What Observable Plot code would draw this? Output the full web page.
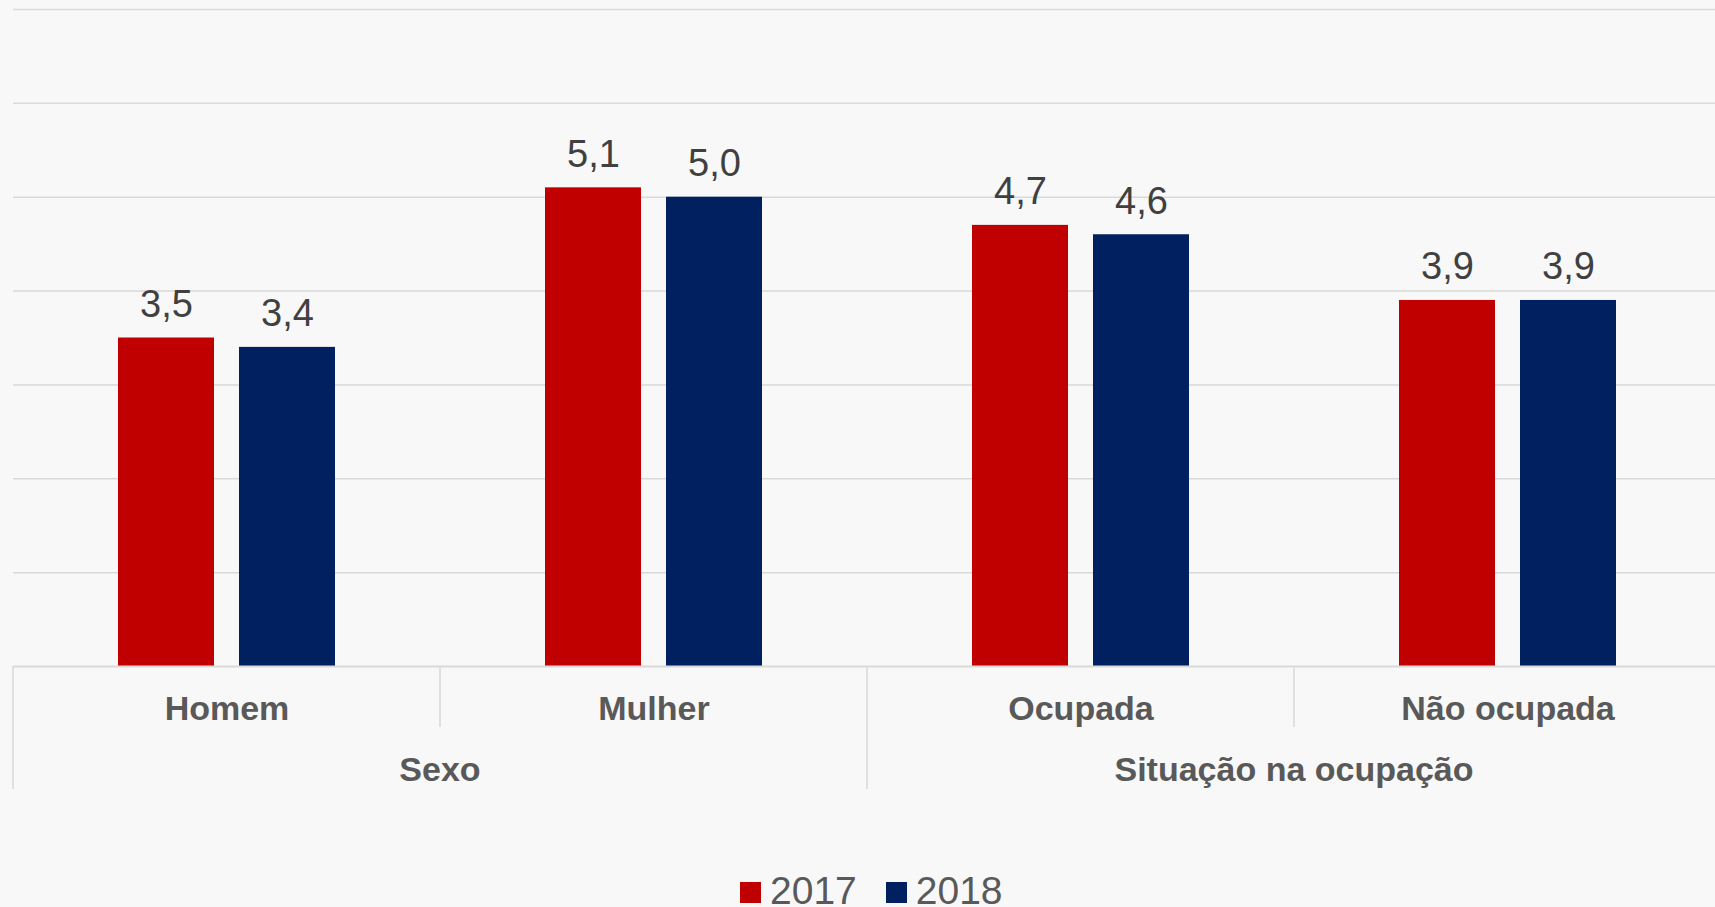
<!DOCTYPE html>
<html>
<head>
<meta charset="utf-8">
<script src="https://cdn.jsdelivr.net/npm/d3@7"></script>
<script src="https://cdn.jsdelivr.net/npm/@observablehq/plot@0.6"></script>
<style>
  html, body { margin: 0; padding: 0; background: #f8f8f8; overflow: hidden; }
  #wrap { position: relative; width: 1715px; height: 907px; overflow: hidden; font-family: "Liberation Sans", Arial, sans-serif; }
  #chart svg { max-width: none !important; }
  #legend { position: absolute; top: 871px; left: 740px; font-size: 39px; line-height: 39px; color: #595959; white-space: nowrap; }
  #legend .sw { display: inline-block; width: 21px; height: 21px; margin-right: 9px; margin-bottom: 1px; vertical-align: baseline; }
  #legend .item { display: inline-block; margin-right: 29px; }
</style>
</head>
<body>
<div id="wrap"><div id="chart"></div><div id="legend"></div></div>
<script>
const categories = ["Homem", "Mulher", "Ocupada", "Não ocupada"];
const groups = ["Sexo", "Situação na ocupação"];
const groupMembers = [["Homem", "Mulher"], ["Ocupada", "Não ocupada"]];
const years = ["2017", "2018"];
const colors = ["#C00000", "#002060"];
const values2017 = [3.5, 5.1, 4.7, 3.9];
const values2018 = [3.4, 5.0, 4.6, 3.9];
const yTicks = [1, 2, 3, 4, 5, 6, 7];

const data = [];
categories.forEach((c, i) => {
  data.push({cat: c, year: years[0], value: values2017[i]});
  data.push({cat: c, year: years[1], value: values2018[i]});
});
const fmt = v => v.toFixed(1).replace(".", ",");
const font = '"Liberation Sans", Arial, sans-serif';

const chart = Plot.plot({
  width: 1722,
  height: 800,
  marginLeft: 11,
  marginRight: 0,
  marginTop: 9,
  marginBottom: 134,
  style: {background: "transparent", fontFamily: font, overflow: "visible", maxWidth: "none"},
  fx: {domain: categories, padding: 0, axis: null},
  x: {domain: years, paddingInner: 0.21, paddingOuter: 0.858, axis: null},
  y: {domain: [0, 7], axis: null},
  color: {domain: years, range: colors},
  marks: [
    Plot.ruleY(yTicks, {stroke: "#d9d9d9", strokeWidth: 1.5}),
    Plot.barY(data, {fx: "cat", x: "year", y: "value", fill: "year"}),
    Plot.ruleY([0], {stroke: "#d9d9d9", strokeWidth: 2}),
    Plot.text(data, {fx: "cat", x: "year", y: "value", text: d => fmt(d.value),
      lineAnchor: "bottom", dy: -21, fontSize: 38, fill: "#404040"}),
    Plot.text(categories, {fx: d => d, text: d => d, frameAnchor: "bottom",
      lineAnchor: "bottom", dy: 53, fontSize: 34, fontWeight: "bold", fill: "#595959"})
  ]
});
document.getElementById("chart").appendChild(chart);

// Two-level category axis: separators and group labels, positioned via Plot's own scales
const fx = chart.scale("fx");
const yScale = chart.scale("y");
const base = yScale.apply(0);
const svg = d3.select(chart);
const g = svg.append("g");
const firstOfGroup = new Set(groupMembers.map(m => m[0]));
categories.forEach(c => {
  const x0 = fx.apply(c);
  g.append("line")
    .attr("x1", x0).attr("x2", x0)
    .attr("y1", base).attr("y2", base + (firstOfGroup.has(c) ? 123 : 61))
    .attr("stroke", "#d9d9d9").attr("stroke-width", 1.5);
});
groups.forEach((name, i) => {
  const members = groupMembers[i];
  const xa = fx.apply(members[0]);
  const xb = fx.apply(members[members.length - 1]) + fx.bandwidth;
  g.append("text")
    .attr("x", (xa + xb) / 2).attr("y", base + 115)
    .attr("text-anchor", "middle")
    .attr("font-family", font).attr("font-size", 34).attr("font-weight", "bold")
    .attr("fill", "#595959")
    .text(name);
});

// Legend
const legend = document.getElementById("legend");
years.forEach((y, i) => {
  const item = document.createElement("span");
  item.className = "item";
  const sw = document.createElement("span");
  sw.className = "sw";
  sw.style.background = colors[i];
  item.appendChild(sw);
  item.appendChild(document.createTextNode(y));
  legend.appendChild(item);
});
</script>
</body>
</html>
